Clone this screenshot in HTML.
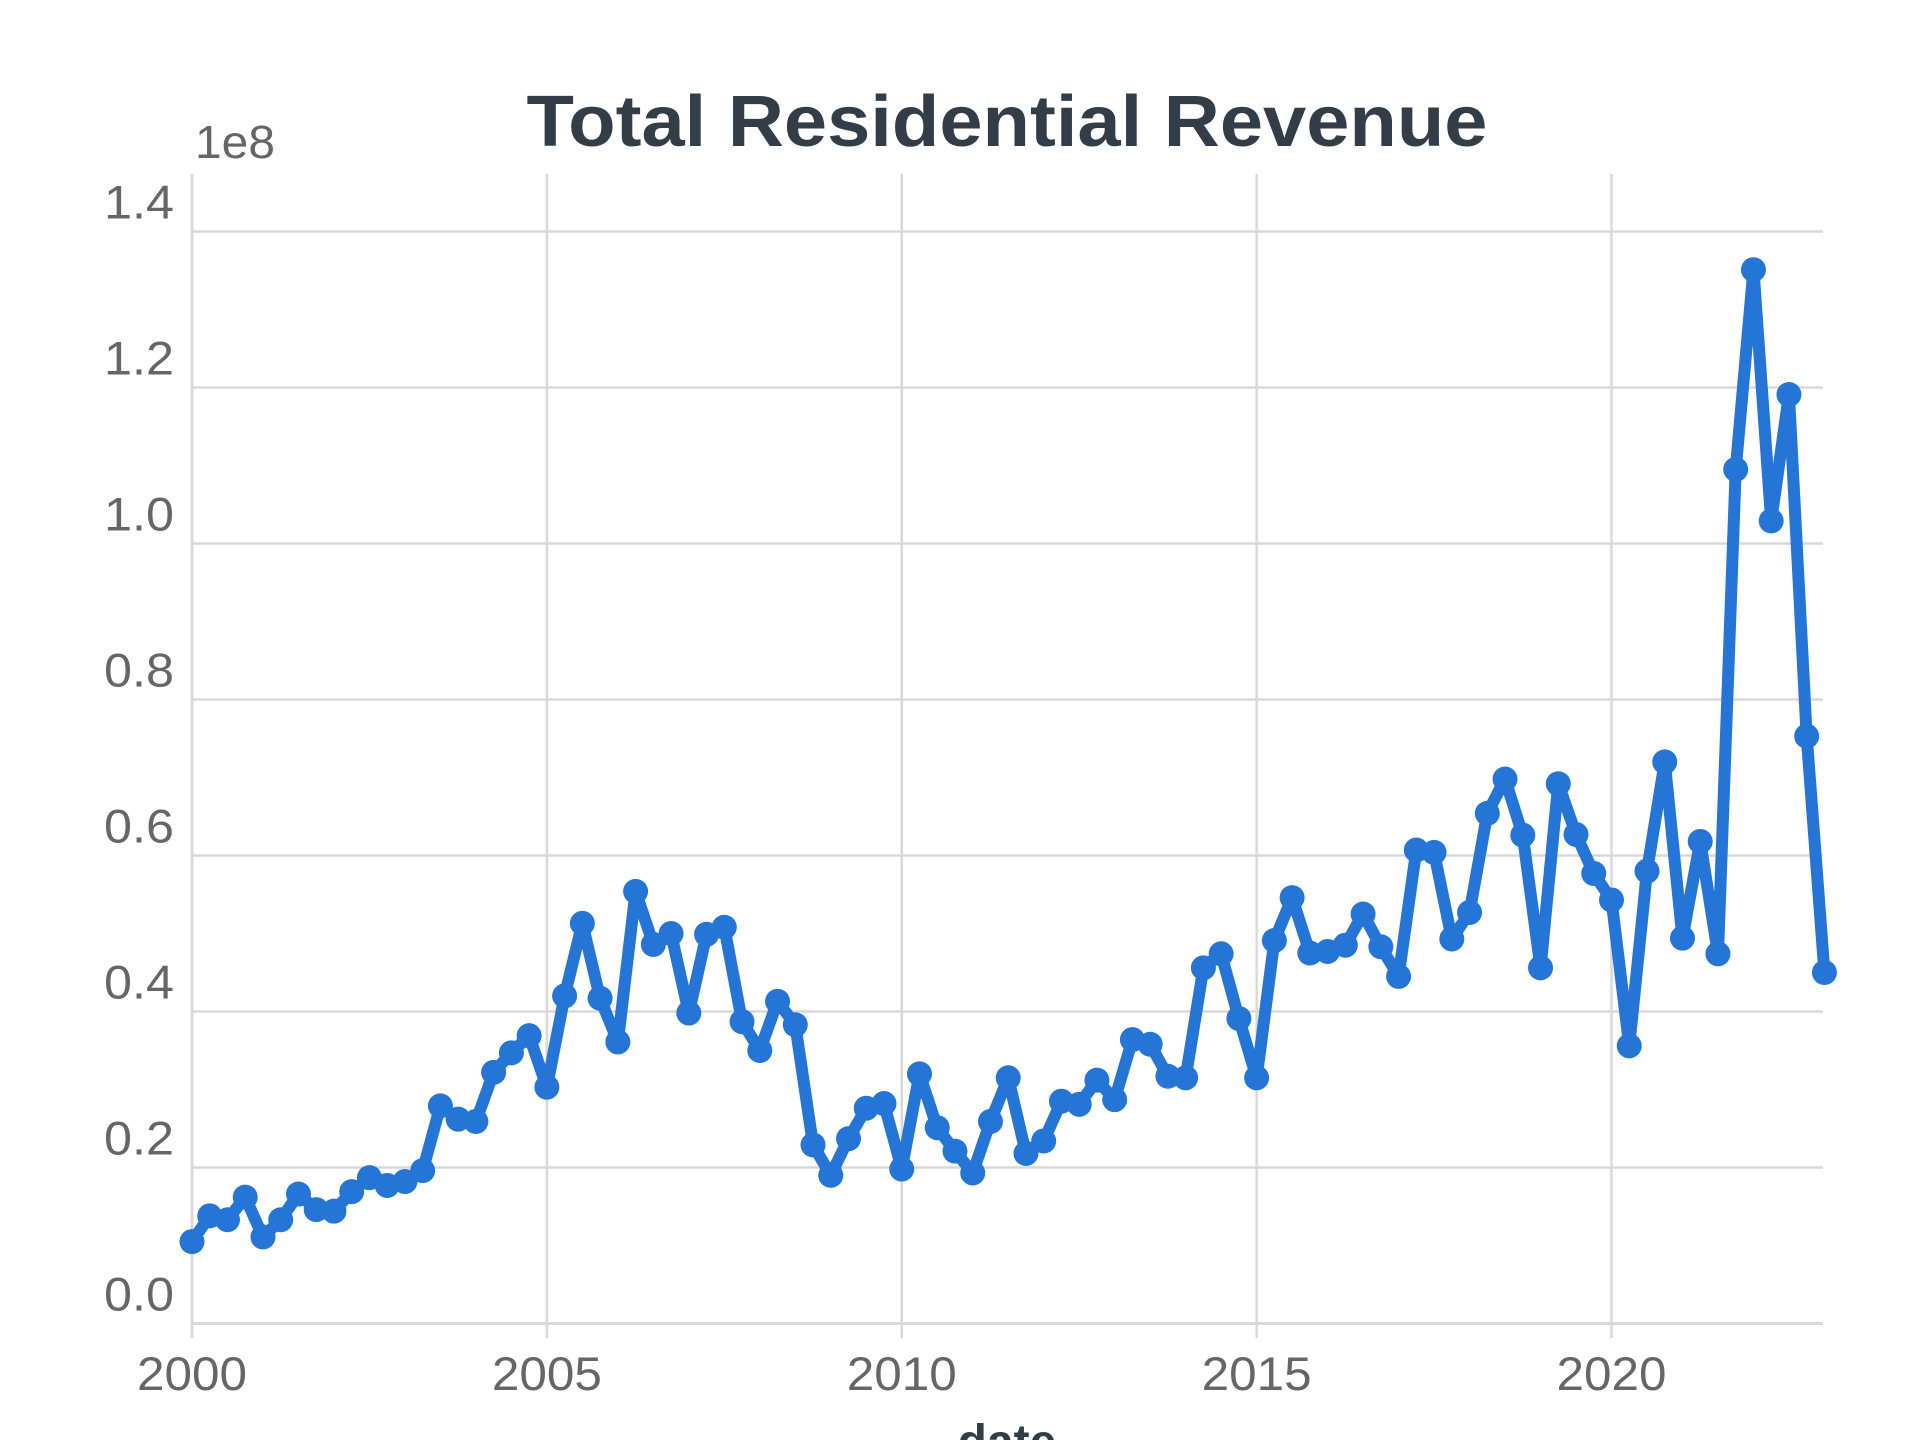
<!DOCTYPE html>
<html><head><meta charset="utf-8"><style>
html,body{margin:0;padding:0;background:#fff;}
svg{display:block;font-family:"Liberation Sans","DejaVu Sans",sans-serif;}
</style></head><body>
<svg id="chart" width="1920" height="1440" viewBox="0 0 1920 1440" xmlns="http://www.w3.org/2000/svg">
<text x="1007" y="146" text-anchor="middle" font-size="72" font-weight="bold" fill="#333d47" textLength="961" lengthAdjust="spacingAndGlyphs">Total Residential Revenue</text>
<text x="195" y="158" font-size="46" fill="#666" textLength="80" lengthAdjust="spacingAndGlyphs">1e8</text>
<g id="grid"></g>
<g id="axes"></g>
<g id="series"></g>
<text x="1007" y="1458" text-anchor="middle" font-size="48" font-weight="bold" fill="#333d47">date</text>
</svg>
<script>
const startYear = 2000;
const yTicks = [0, 0.2, 0.4, 0.6, 0.8, 1.0, 1.2, 1.4];
const yTickLabels = ["0.0","0.2","0.4","0.6","0.8","1.0","1.2","1.4"];
const xTicks = [2000, 2005, 2010, 2015, 2020];
const xTickLabels = ["2000","2005","2010","2015","2020"];
const revenue = [0.105,0.138,0.133,0.162,0.111,0.133,0.166,0.146,0.144,0.169,0.187,0.177,0.182,0.196,0.279,0.262,0.259,0.322,0.347,0.369,0.303,0.420,0.513,0.417,0.361,0.554,0.486,0.500,0.398,0.499,0.508,0.387,0.350,0.413,0.383,0.229,0.190,0.237,0.276,0.282,0.198,0.320,0.251,0.221,0.193,0.259,0.315,0.218,0.234,0.285,0.281,0.312,0.287,0.364,0.358,0.317,0.315,0.456,0.474,0.391,0.315,0.491,0.546,0.475,0.477,0.485,0.525,0.483,0.445,0.607,0.604,0.493,0.527,0.654,0.698,0.626,0.456,0.692,0.627,0.577,0.543,0.356,0.580,0.720,0.494,0.618,0.474,1.095,1.351,1.029,1.191,0.753,0.450];

const NS = "http://www.w3.org/2000/svg";
const L = 192, R = 1823, T = 174, B = 1323.5;
const pxPerYear = (1611.5 - 192) / 20;
const xs = yr => L + (yr - startYear) * pxPerYear;
const ys = v => B - v / 1.4 * (B - 231.5);
function mk(tag, attrs, parent){const e=document.createElementNS(NS,tag);for(const k in attrs)e.setAttribute(k,attrs[k]);parent.appendChild(e);return e;}
const grid = document.getElementById('grid'), axes = document.getElementById('axes'), series = document.getElementById('series');

yTicks.forEach((v,i)=>{
  if(v>0){const g=mk('line',{x1:L,x2:R,y1:ys(v),y2:ys(v),stroke:'#d9d9d9','stroke-width':2.5},grid);
  
  }
  const t=mk('text',{x:174,y:ys(v)-13,'text-anchor':'end','font-size':47,fill:'#666',textLength:70,lengthAdjust:'spacingAndGlyphs'},axes);
  t.textContent=yTickLabels[i];
  
  
});
xTicks.forEach((yr,i)=>{
  const x=xs(yr);
  if(i>0){const g=mk('line',{x1:x,x2:x,y1:T,y2:B,stroke:'#d9d9d9','stroke-width':2.5},grid);
  
  }
  const tk=mk('line',{x1:x,x2:x,y1:B,y2:1338,stroke:'#d9d9d9','stroke-width':2.5},axes);
  
  
  const t=mk('text',{x:x,y:1390,'text-anchor':'middle','font-size':47,fill:'#666',textLength:110,lengthAdjust:'spacingAndGlyphs'},axes);
  t.textContent=xTickLabels[i];
  
  
});
const xa=mk('line',{x1:L,x2:R,y1:B,y2:B,stroke:'#d9d9d9','stroke-width':3},axes);


const ya=mk('line',{x1:L,x2:L,y1:T,y2:1338,stroke:'#d9d9d9','stroke-width':3},axes);



const pts = revenue.map((v,i)=>[xs(startYear+i*0.25), ys(v)]);
const line=mk('polyline',{points:pts.map(p=>p.join(',')).join(' '),fill:'none',stroke:'#2575d6','stroke-width':12,'stroke-linejoin':'round'},series);


pts.forEach(p=>{
  const c=mk('circle',{cx:p[0],cy:p[1],r:12.5,fill:'#2575d6'},series);
  
  
});
</script>
</body></html>
